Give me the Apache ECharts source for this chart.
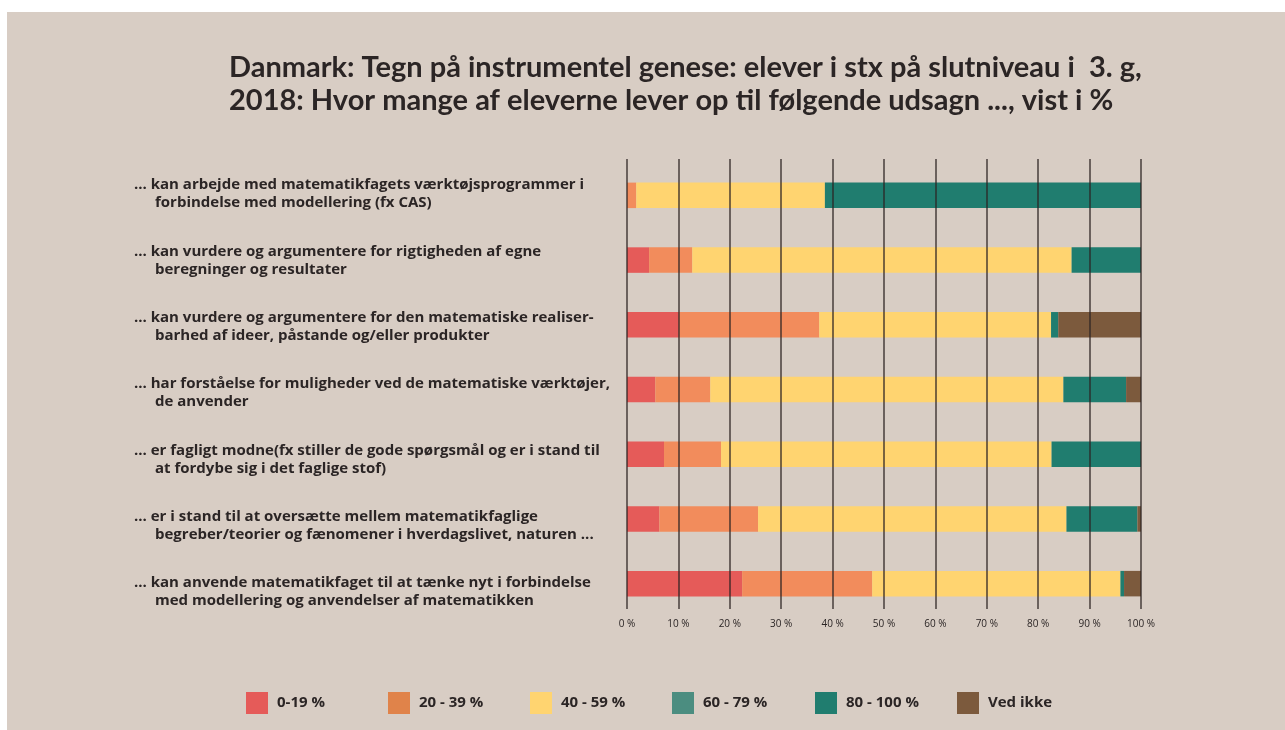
<!DOCTYPE html>
<html>
<head>
<meta charset="utf-8">
<script src="https://cdn.jsdelivr.net/npm/echarts@6/dist/echarts.min.js"></script>
<style>
  html, body { margin: 0; padding: 0; background: #ffffff; }
  #chart { width: 1285px; height: 730px; }
</style>
</head>
<body>
<div id="chart"></div>
<script>
// Statements (two lines each), top to bottom
const categories = [
  '... kan arbejde med matematikfagets værktøjsprogrammer i\nforbindelse med modellering (fx CAS)',
  '... kan vurdere og argumentere for rigtigheden af egne\nberegninger og resultater',
  '... kan vurdere og argumentere for den matematiske realiser-\nbarhed af ideer, påstande og/eller produkter',
  '... har forståelse for muligheder ved de matematiske værktøjer,\nde anvender',
  '... er fagligt modne(fx stiller de gode spørgsmål og er i stand til\nat fordybe sig i det faglige stof)',
  '... er i stand til at oversætte mellem matematikfaglige\nbegreber/teorier og fænomener i hverdagslivet, naturen ...',
  '... kan anvende matematikfaget til at tænke nyt i forbindelse\nmed modellering og anvendelser af matematikken'
];

// Share of classes per band (percent)
const share0to19   = [0,    4.3, 10.1,  5.5,  7.2,  6.3, 22.4];
const share20to39  = [1.8,  8.4, 27.3, 10.7, 11.1, 19.2, 25.3];
const share40to59  = [36.7, 73.8, 45.1, 68.7, 64.3, 60.0, 48.3];
const share60to79  = [0,    0,    0,    0,    0,    0,    0];
const share80to100 = [61.5, 13.5,  1.4, 12.2, 17.4, 13.8,  0.7];
const shareVedIkke = [0,    0,   16.1,  2.9,  0,    0.7,  3.3];

const seriesNames = ['0-19 %', '20 - 39 %', '40 - 59 %', '60 - 79 %', '80 - 100 %', 'Ved ikke'];
const seriesData = [share0to19, share20to39, share40to59, share60to79, share80to100, shareVedIkke];
const barColors = ['#e55b59', '#f28c5c', '#ffd470', '#4b8d80', '#207d6f', '#7c5a3d'];
const legendColors = ['#e55b59', '#e0834a', '#ffd470', '#4b8d80', '#207d6f', '#7c5a3d'];

const xTickLabels = ['0 %', '10 %', '20 %', '30 %', '40 %', '50 %', '60 %', '70 %', '80 %', '90 %', '100 %'];

const TITLE_FONT = 'Lato, sans-serif';
const FONT = '"Open Sans", Lato, sans-serif';
const INK = '#2b2525';

const chart = echarts.init(document.getElementById('chart'), null, { renderer: 'canvas' });

const legendLeft = [241, 383, 525, 667, 810, 952];

const option = {
  backgroundColor: '#ffffff',
  animation: false,
  graphic: [{
    type: 'rect', left: 7, top: 12, z: -10, silent: true,
    shape: { width: 1278, height: 718 },
    style: { fill: '#d8cdc4' }
  }],
  title: {
    text: 'Danmark: Tegn på instrumentel genese: elever i stx på slutniveau i  3. g,\n2018: Hvor mange af eleverne lever op til følgende udsagn ..., vist i %',
    left: 224, top: 46,
    textStyle: { fontFamily: TITLE_FONT, fontSize: 29, fontWeight: 'bold', lineHeight: 33, color: INK }
  },
  legend: seriesNames.map((name, i) => ({
    data: [{ name: name, itemStyle: { color: legendColors[i] } }],
    left: legendLeft[i], top: 687,
    itemWidth: 22, itemHeight: 22,
    icon: 'rect',
    selectedMode: false,
    textStyle: { fontFamily: FONT, fontSize: 15, fontWeight: 'bold', color: INK, padding: [0, 0, 0, 4] }
  })),
  grid: [
    // bars
    { left: 627, width: 514, top: 163, height: 453 },
    // vertical gridlines + percent ticks
    { left: 627, width: 514, top: 159, height: 450 },
    // statement labels
    { left: 627, width: 514, top: 161, height: 464 }
  ],
  xAxis: [
    { gridIndex: 0, type: 'value', min: 0, max: 100, show: false },
    {
      gridIndex: 1, type: 'value', min: 0, max: 100, interval: 10, z: 10,
      axisLine: { show: false }, axisTick: { show: false },
      splitLine: { show: true, lineStyle: { color: 'rgba(45,35,35,0.85)', width: 1.5 } },
      axisLabel: {
        margin: 10, fontFamily: FONT, fontSize: 10, color: INK,
        formatter: (v) => xTickLabels[Math.round(v / 10)]
      }
    },
    { gridIndex: 2, type: 'value', min: 0, max: 100, show: false }
  ],
  yAxis: [
    { gridIndex: 0, type: 'category', data: categories, inverse: true, show: false },
    { gridIndex: 1, type: 'value', min: 0, max: 1, show: false },
    {
      gridIndex: 2, type: 'category', data: categories, inverse: true,
      axisLine: { show: false }, axisTick: { show: false },
      axisLabel: {
        align: 'left', margin: 493,
        formatter: (v) => {
          const parts = v.split('\n');
          return '{a|' + parts[0] + '}\n{b|' + parts[1] + '}';
        },
        rich: {
          a: { fontFamily: FONT, fontSize: 15, fontWeight: 'bold', color: INK, lineHeight: 18 },
          b: { fontFamily: FONT, fontSize: 15, fontWeight: 'bold', color: INK, lineHeight: 18, padding: [0, 0, 0, 21] }
        }
      }
    }
  ],
  series: seriesNames.map((name, i) => ({
    name: name,
    type: 'bar',
    stack: 'total',
    xAxisIndex: 0,
    yAxisIndex: 0,
    barWidth: 25.5,
    itemStyle: { color: barColors[i] },
    data: seriesData[i]
  }))
};

chart.setOption(option);
</script>
</body>
</html>
